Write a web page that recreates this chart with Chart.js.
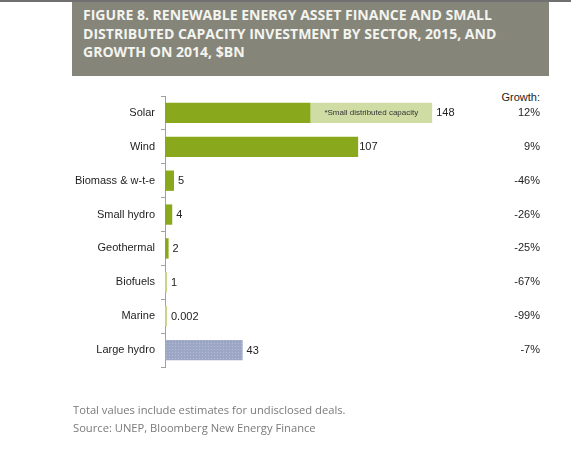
<!DOCTYPE html>
<html><head><meta charset="utf-8">
<script src="https://cdn.jsdelivr.net/npm/chart.js@4/dist/chart.umd.min.js"></script>
<style>
body{margin:0;width:571px;height:456px;background:#fff;position:relative;overflow:hidden}
#topline{position:absolute;left:0;top:0;width:571px;height:2px;background:#707070}
#header{position:absolute;left:72px;top:2px;width:477px;height:74px;background:#85857a}
#title{position:absolute;left:83px;top:6px;color:#f4f4ef;font-family:"Open Sans",sans-serif;font-weight:700;font-size:14px;line-height:18.7px;white-space:nowrap;transform-origin:0 0}
#growth{position:absolute;right:31px;top:91px;font-family:"Liberation Sans",Arial,sans-serif;font-size:11px;color:#222}
#foot{position:absolute;left:73px;top:401px;font-family:"Open Sans",sans-serif;font-size:11.2px;line-height:18px;color:#7a7a7a;white-space:nowrap}
canvas{position:absolute;left:0;top:0}
</style></head>
<body>
<div id="topline"></div>
<div id="header"></div>
<div id="title">FIGURE 8. RENEWABLE ENERGY ASSET FINANCE AND SMALL<br>DISTRIBUTED CAPACITY INVESTMENT BY SECTOR, 2015, AND<br>GROWTH ON 2014, $BN</div>
<div id="growth">Growth:</div>
<canvas id="c" width="571" height="456"></canvas>
<div id="foot">Total values include estimates for undisclosed deals.<br>Source: UNEP, Bloomberg New Energy Finance</div>
<script>
const categories = ['Solar','Wind','Biomass & w-t-e','Small hydro','Geothermal','Biofuels','Marine','Large hydro'];
const assetFinance = [80.6,107,5,4,2,1,0.002,43];
const smallDistributed = [67.4,0,0,0,0,0,0,0];
const totalLabels = ['148','107','5','4','2','1','0.002','43'];
const totals = [148,107,5,4,2,1,0.002,43];
const growth = ['12%','9%','-46%','-26%','-25%','-67%','-99%','-7%'];
const smallDistLabel = '*Small distributed capacity';

(function(){const t=document.getElementById('title');
const span=document.createElement('span');span.textContent='FIGURE 8. RENEWABLE ENERGY ASSET FINANCE AND SMALL';span.style.cssText='font:700 14px "Open Sans";position:absolute;visibility:hidden;white-space:nowrap';document.body.appendChild(span);const lw=span.getBoundingClientRect().width;span.remove();t.style.transform='scaleX('+(409/lw)+')';})();

const ctx = document.getElementById('c').getContext('2d');
function hydroPattern(){
  const p=document.createElement('canvas');p.width=3;p.height=3;const g=p.getContext('2d');
  g.fillStyle='#9ca7c6';g.fillRect(0,0,3,3);g.fillStyle='#b3bbd5';g.fillRect(1,1,1,1);
  return ctx.createPattern(p,'repeat');
}
const DARK='#8aa81b', LIGHT='#cfdca4', PALE='#c9d48a';
const afColors = categories.map((c,i)=> i===categories.length-1 ? hydroPattern() : (i>=5 ? PALE : DARK));

const labelPlugin = {
  id:'labels',
  afterDatasetsDraw(chart){
    const c=chart.ctx, xs=chart.scales.x, ys=chart.scales.y;
    c.save();
    c.font='11px "Liberation Sans", Arial, sans-serif';
    c.fillStyle='#222';c.textBaseline='middle';c.textAlign='left';
    totals.forEach((v,i)=>{
      const x=Math.max(xs.getPixelForValue(v), xs.left+2);
      const y=ys.getPixelForValue(i);
      c.fillText(totalLabels[i], x+(i===1?1:4), y+0.5);
    });
    const el=chart.getDatasetMeta(1).data[0];
    c.font='8px "Liberation Sans", Arial, sans-serif';c.textAlign='center';c.fillStyle='#333';
    c.fillText(smallDistLabel,(el.x+el.base)/2,el.y);
    c.restore();
  }
};

new Chart(ctx,{
  type:'bar',
  data:{labels:categories,datasets:[
    {label:'Asset finance',data:assetFinance,backgroundColor:afColors,borderWidth:0,minBarLength:2,barPercentage:0.6,categoryPercentage:1},
    {label:'Small distributed capacity',data:smallDistributed,backgroundColor:LIGHT,borderWidth:0,barPercentage:0.6,categoryPercentage:1}
  ]},
  options:{
    indexAxis:'y',responsive:false,animation:false,
    layout:{padding:{top:96,bottom:89,left:0,right:31}},
    plugins:{legend:{display:false},tooltip:{enabled:false}},
    scales:{
      x:{display:false,stacked:true,min:0,max:174.5},
      y:{stacked:true,
         afterFit(s){s.width=165;},
         grid:{drawOnChartArea:false,drawTicks:true,tickLength:4,color:'#a0a0a0',offset:true},
         border:{display:true,color:'#a0a0a0',width:1},
         ticks:{padding:6,color:'#1e1e1e',font:{family:'"Liberation Sans", Arial, sans-serif',size:11}}},
      y2:{type:'category',position:'right',labels:growth,offset:true,
         afterFit(s){s.width=60;},
         grid:{display:false},border:{display:false},
         ticks:{crossAlign:'far',padding:0,color:'#1e1e1e',font:{family:'"Liberation Sans", Arial, sans-serif',size:11}}}
    }
  },
  plugins:[labelPlugin]
});
</script>
</body></html>
